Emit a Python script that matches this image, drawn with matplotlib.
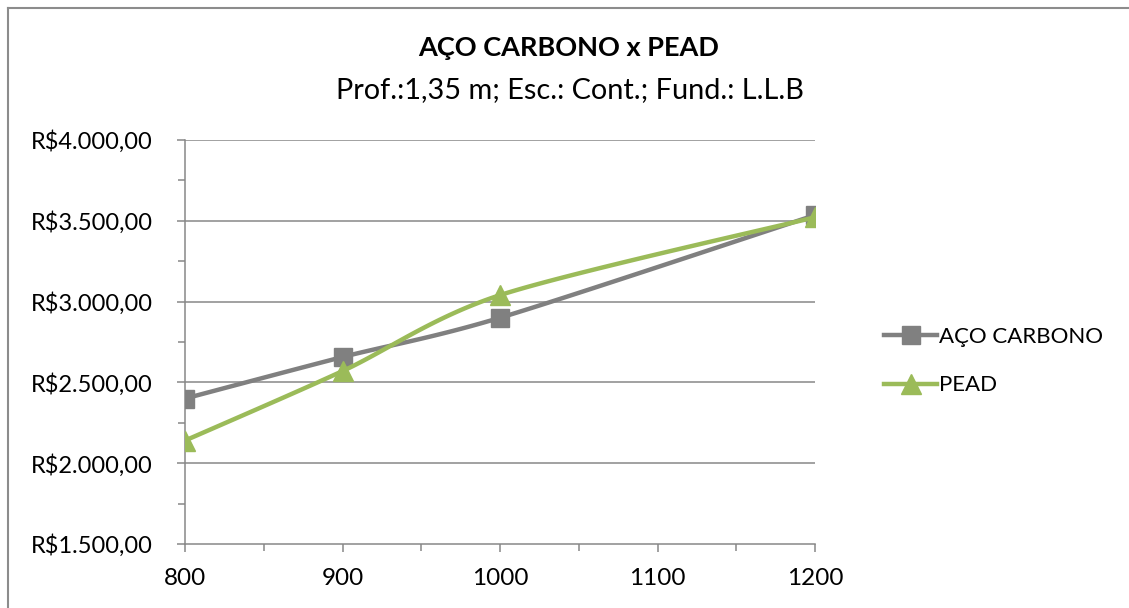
import numpy as np
import matplotlib
matplotlib.use("Agg")
import matplotlib.pyplot as plt
from matplotlib.lines import Line2D
from matplotlib.ticker import FuncFormatter, MultipleLocator

plt.rcParams['font.family'] = ['Lato', 'DejaVu Sans']

diametros = [800, 900, 1000, 1200]
aco_carbono = [2400, 2657, 2900, 3535]
pead = [2140, 2570, 3040, 3522]
series_names = ["AÇO CARBONO", "PEAD"]
title = "AÇO CARBONO x PEAD"
subtitle = "Prof.:1,35 m; Esc.: Cont.; Fund.: L.L.B"

W, H = 1129, 608
fig = plt.figure(figsize=(W / 100, H / 100), dpi=100)
ax = fig.add_axes([185 / W, 1 - 544 / H, (815 - 185) / W, (544 - 140) / H])

XMIN, XMAX, YMIN, YMAX = 800, 1200, 1500, 4000
ax.set_xlim(XMIN, XMAX)
ax.set_ylim(YMIN, YMAX)


def smooth(xs, ys, n=40):
    # Catmull-Rom smoothing in pixel space (rendering only)
    sx = 630 / (XMAX - XMIN)
    sy = 404 / (YMAX - YMIN)
    P = np.column_stack([np.asarray(xs, float) * sx, np.asarray(ys, float) * sy])
    P = np.vstack([P[0], P, P[-1]])
    out = []
    for i in range(1, len(P) - 2):
        p0, p1, p2, p3 = P[i - 1], P[i], P[i + 1], P[i + 2]
        t = np.linspace(0, 1, n)[:, None]
        m1 = (p2 - p0) * 0.5 * 0.85
        m2 = (p3 - p1) * 0.5 * 0.85
        h00 = 2 * t**3 - 3 * t**2 + 1
        h10 = t**3 - 2 * t**2 + t
        h01 = -2 * t**3 + 3 * t**2
        h11 = t**3 - t**2
        seg = h00 * p1 + h10 * m1 + h01 * p2 + h11 * m2
        out.append(seg)
    C = np.vstack(out)
    return C[:, 0] / sx, C[:, 1] / sy


gray = "#808080"
green = "#9BBB59"
grid_c = "#878787"

for yv in [2000, 2500, 3000, 3500, 4000]:
    ax.axhline(yv, color=grid_c, lw=1.1, zorder=1)

cx, cy = smooth(diametros, aco_carbono)
ax.plot(cx, cy, color=gray, lw=3.2, solid_capstyle='round', zorder=3)
ax.plot(diametros, aco_carbono, ls='none', marker='s', ms=12.5, color=gray, zorder=4)

px, py = smooth(diametros, pead)
ax.plot(px, py, color=green, lw=3.2, solid_capstyle='round', zorder=5)
ax.plot(diametros, pead, ls='none', marker='^', ms=14, color=green, zorder=6)

for s in ['top', 'right']:
    ax.spines[s].set_visible(False)
for s in ['left', 'bottom']:
    ax.spines[s].set_color(grid_c)
    ax.spines[s].set_linewidth(1.1)

ax.xaxis.set_major_locator(MultipleLocator(100))
ax.xaxis.set_minor_locator(MultipleLocator(50))
ax.yaxis.set_major_locator(MultipleLocator(500))
ax.yaxis.set_minor_locator(MultipleLocator(250))


def brl(v, pos):
    s = f"{v:,.2f}"
    s = s.replace(",", "X").replace(".", ",").replace("X", ".")
    return "R$" + s


ax.yaxis.set_major_formatter(FuncFormatter(brl))
ax.tick_params(axis='both', which='both', color=grid_c, width=1.1, direction='out')
ax.tick_params(axis='both', which='major', length=6)
ax.tick_params(axis='both', which='minor', length=5)
ax.tick_params(axis='y', which='major', pad=17, labelsize=17)
ax.tick_params(axis='x', which='major', pad=11, labelsize=17.5)

fig.text(569 / W, 1 - 48 / H, title, ha='center', va='center', fontsize=19.5, fontweight='bold')
fig.text(570 / W, 1 - 90 / H, subtitle, ha='center', va='center', fontsize=20.8)

handles = [
    Line2D([], [], color=gray, lw=3.2, marker='s', ms=12.5),
    Line2D([], [], color=green, lw=3.2, marker='^', ms=14),
]
fig.legend(handles, series_names, loc='center left',
           bbox_to_anchor=(875 / W, 1 - 361 / H), frameon=False,
           fontsize=16, handlelength=2.4, handletextpad=0.1,
           labelspacing=1.3, borderaxespad=0)

# outer chart border (top and left visible)
fig.add_artist(Line2D([8 / W, 8 / W], [0, 1 - 8 / H], color="#8c8c8c", lw=1.5,
                      transform=fig.transFigure))
fig.add_artist(Line2D([8 / W, 1], [1 - 8 / H, 1 - 8 / H], color="#8c8c8c", lw=1.5,
                      transform=fig.transFigure))

fig.savefig("out.png", dpi=100, facecolor='white')
